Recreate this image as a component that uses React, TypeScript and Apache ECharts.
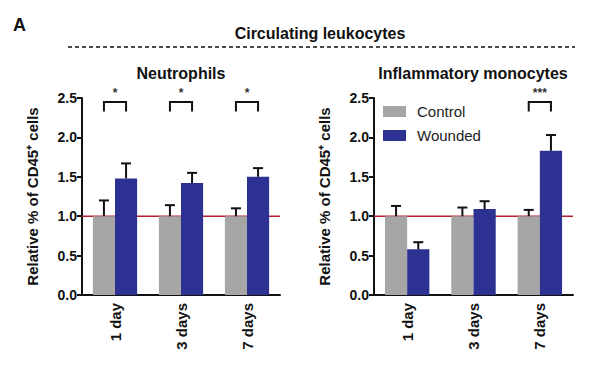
import React, { useEffect, useRef } from "react";
import * as echarts from "echarts";

// ---- data ----
const categories = ["1 day", "3 days", "7 days"];
const seriesNames = ["Control", "Wounded"];

const neutroControl = [1.0, 1.0, 1.0];
const neutroControlSem = [0.2, 0.14, 0.1];
const neutroWounded = [1.48, 1.42, 1.5];
const neutroWoundedSem = [0.19, 0.13, 0.11];
const neutroSig = ["*", "*", "*"];

const monoControl = [1.0, 1.0, 1.0];
const monoControlSem = [0.13, 0.11, 0.08];
const monoWounded = [0.58, 1.09, 1.83];
const monoWoundedSem = [0.09, 0.1, 0.2];
const monoSig = ["", "", "***"];

const yTicks = [0, 0.5, 1.0, 1.5, 2.0, 2.5];
const referenceValue = 1.0;
const bracketTop = 2.45;
const bracketBottom = 2.33;

const FONT = '"Liberation Sans", Arial, Helvetica, sans-serif';
const GREY = "#a6a6a6";
const NAVY = "#2d3191";
const RED = "#b5222f";
const CAT_GAP = 0.33;

function errRender(sign: number) {
  return (params: any, api: any) => {
    const idx = api.value(0);
    const mean = api.value(1);
    const err = api.value(2);
    const base = api.coord([idx, mean]);
    const top = api.coord([idx, mean + err]);
    const catW = api.size([1, 0])[0];
    const bw = (catW * (1 - CAT_GAP)) / 2;
    const x = base[0] + (sign * bw) / 2;
    return {
      type: "group",
      children: [
        { type: "line", shape: { x1: x, y1: base[1], x2: x, y2: top[1] }, style: { stroke: "#111", lineWidth: 2 } },
        { type: "line", shape: { x1: x - 5, y1: top[1], x2: x + 5, y2: top[1] }, style: { stroke: "#111", lineWidth: 2 } },
      ],
    };
  };
}

function bracketRender(sig: string[]) {
  return (params: any, api: any) => {
    const idx = api.value(0);
    const topY = api.coord([idx, api.value(1)])[1];
    const botY = api.coord([idx, api.value(2)])[1];
    const cx = api.coord([idx, 0])[0];
    const catW = api.size([1, 0])[0];
    const bw = (catW * (1 - CAT_GAP)) / 2;
    const x1 = cx - bw / 2;
    const x2 = cx + bw / 2;
    const label = sig[idx] || "";
    return {
      type: "group",
      children: [
        {
          type: "polyline",
          shape: { points: [[x1, botY], [x1, topY], [x2, topY], [x2, botY]] },
          style: { stroke: "#111", lineWidth: 2, fill: "none" },
        },
        {
          type: "text",
          style: {
            text: label,
            x: cx,
            y: topY - 3,
            textAlign: "center",
            textVerticalAlign: "bottom",
            font: `bold 12px ${FONT}`,
            fill: "#333",
          },
        },
      ],
    };
  };
}

function refLineRender(params: any, api: any) {
  const y = api.coord([0, api.value(1)])[1];
  const cs = params.coordSys;
  return {
    type: "line",
    shape: { x1: cs.x, y1: y, x2: cs.x + cs.width, y2: y },
    style: { stroke: RED, lineWidth: 1.5 },
  };
}

function buildSeries(gi: number, control: number[], cSem: number[], wounded: number[], wSem: number[], sig: string[]) {
  return [
    {
      type: "custom",
      xAxisIndex: gi,
      yAxisIndex: gi,
      z: 1,
      renderItem: refLineRender,
      data: [[0, referenceValue]],
      silent: true,
    },
    {
      name: seriesNames[0],
      type: "bar",
      xAxisIndex: gi,
      yAxisIndex: gi,
      z: 2,
      barGap: "0%",
      barCategoryGap: `${CAT_GAP * 100}%`,
      itemStyle: { color: GREY },
      data: control,
    },
    {
      name: seriesNames[1],
      type: "bar",
      xAxisIndex: gi,
      yAxisIndex: gi,
      z: 2,
      barGap: "0%",
      barCategoryGap: `${CAT_GAP * 100}%`,
      itemStyle: { color: NAVY },
      data: wounded,
    },
    {
      type: "custom",
      xAxisIndex: gi,
      yAxisIndex: gi,
      z: 3,
      renderItem: errRender(-1),
      data: control.map((v, i) => [i, v, cSem[i]]),
    },
    {
      type: "custom",
      xAxisIndex: gi,
      yAxisIndex: gi,
      z: 3,
      renderItem: errRender(1),
      data: wounded.map((v, i) => [i, v, wSem[i]]),
    },
    {
      type: "custom",
      xAxisIndex: gi,
      yAxisIndex: gi,
      z: 3,
      renderItem: bracketRender(sig),
      data: sig.map((s, i) => (s !== "" ? [i, bracketTop, bracketBottom] : null)).filter((d) => d !== null),
    },
  ];
}

function xAxisCfg(gi: number) {
  return {
    type: "category",
    gridIndex: gi,
    data: categories,
    axisLine: { lineStyle: { color: "#111", width: 2 } },
    axisTick: { alignWithLabel: true, length: 5, lineStyle: { color: "#111", width: 2 } },
    axisLabel: { rotate: 90, margin: 8, color: "#111", fontSize: 15, fontWeight: "bold", fontFamily: FONT },
  };
}

function yAxisCfg(gi: number) {
  return {
    type: "value",
    gridIndex: gi,
    min: yTicks[0],
    max: yTicks[yTicks.length - 1],
    interval: yTicks[1] - yTicks[0],
    name: "Relative % of CD45\u207A cells",
    nameLocation: "middle",
    nameRotate: 90,
    nameGap: 42,
    nameTextStyle: { color: "#111", fontSize: 15, fontWeight: "bold", fontFamily: FONT },
    axisLine: { show: true, lineStyle: { color: "#111", width: 2 } },
    axisTick: { show: true, length: 5, lineStyle: { color: "#111", width: 2 } },
    axisLabel: {
      margin: 5,
      color: "#111",
      fontSize: 14,
      fontWeight: "bold",
      fontFamily: FONT,
      formatter: (v: number) => v.toFixed(1),
    },
    splitLine: { show: false },
  };
}

export default function App() {
  const ref = useRef<HTMLDivElement>(null);
  useEffect(() => {
    if (!ref.current) return;
    const chart = echarts.init(ref.current, null, { renderer: "svg" });
    chart.setOption({
      animation: false,
      backgroundColor: "#fff",
      textStyle: { fontFamily: FONT },
      grid: [
        { left: 82, right: 320, top: 98, bottom: 75 },
        { left: 374, right: 27, top: 98, bottom: 75 },
      ],
      xAxis: [xAxisCfg(0), xAxisCfg(1)],
      yAxis: [yAxisCfg(0), yAxisCfg(1)],
      legend: {
        data: seriesNames,
        orient: "vertical",
        left: 378,
        top: 99,
        itemWidth: 23,
        itemHeight: 11,
        itemGap: 9,
        icon: "rect",
        textStyle: { fontSize: 15, color: "#222", fontFamily: FONT, padding: [0, 0, 0, 6] },
      },
      graphic: [
        { type: "text", x: 13, y: 16, style: { text: "A", font: `bold 18px ${FONT}`, fill: "#111" } },
        {
          type: "text",
          x: 320,
          y: 33,
          style: { text: "Circulating leukocytes", font: `bold 16px ${FONT}`, fill: "#111", textAlign: "center", textVerticalAlign: "middle" },
        },
        {
          type: "line",
          shape: { x1: 68, y1: 47, x2: 575, y2: 47 },
          style: { stroke: "#111", lineWidth: 1.5, lineDash: [4, 3] },
        },
        {
          type: "text",
          x: 181,
          y: 73,
          style: { text: "Neutrophils", font: `bold 16px ${FONT}`, fill: "#111", textAlign: "center", textVerticalAlign: "middle" },
        },
        {
          type: "text",
          x: 473,
          y: 73,
          style: { text: "Inflammatory monocytes", font: `bold 16px ${FONT}`, fill: "#111", textAlign: "center", textVerticalAlign: "middle" },
        },
      ],
      series: [
        ...buildSeries(0, neutroControl, neutroControlSem, neutroWounded, neutroWoundedSem, neutroSig),
        ...buildSeries(1, monoControl, monoControlSem, monoWounded, monoWoundedSem, monoSig),
      ],
    });
    return () => chart.dispose();
  }, []);
  return <div ref={ref} style={{ position: "fixed", left: 0, top: 0, width: 600, height: 370 }} />;
}
